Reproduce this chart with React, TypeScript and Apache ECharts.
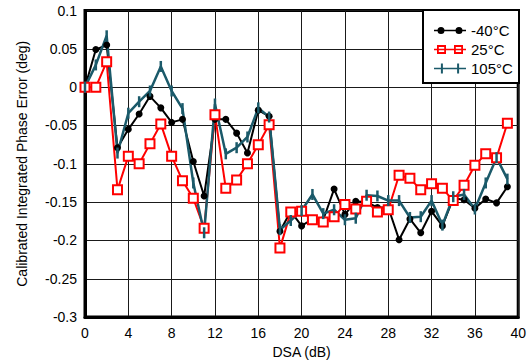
import React, { useEffect, useRef } from "react";
import * as echarts from "echarts";

const dsa: number[] = Array.from({ length: 40 }, (_, i) => i);

const minus40: number[] = [
  0, 0.049, 0.055, -0.079, -0.055, -0.035, -0.012, -0.027, -0.046, -0.042,
  -0.097, -0.142, -0.042, -0.042, -0.06, -0.086, -0.03, -0.038, -0.188, -0.162,
  -0.181, -0.172, -0.173, -0.133, -0.166, -0.149, -0.15, -0.157, -0.157, -0.199,
  -0.172, -0.19, -0.162, -0.181, -0.145, -0.147, -0.158, -0.146, -0.151, -0.13,
];

const plus25: number[] = [
  0, 0, 0.033, -0.134, -0.09, -0.1, -0.074, -0.048, -0.09, -0.122,
  -0.145, -0.184, -0.036, -0.132, -0.121, -0.1, -0.075, -0.049, -0.21, -0.163,
  -0.162, -0.173, -0.176, -0.169, -0.153, -0.159, -0.149, -0.163, -0.16, -0.115,
  -0.119, -0.134, -0.126, -0.132, -0.148, -0.128, -0.102, -0.087, -0.092, -0.047,
];

const plus105: number[] = [
  0, 0.029, 0.067, -0.086, -0.034, -0.019, -0.005, 0.027, -0.005, -0.028,
  -0.125, -0.19, -0.022, -0.087, -0.079, -0.065, -0.027, -0.039, -0.186, -0.174,
  -0.161, -0.14, -0.165, -0.16, -0.173, -0.171, -0.141, -0.142, -0.148, -0.148,
  -0.17, -0.169, -0.148, -0.18, -0.143, -0.14, -0.159, -0.125, -0.092, -0.12,
];

const seriesNames = ["-40°C", "25°C", "105°C"];
const colors = ["#000000", "#ff0000", "#1b5a6a"];
const FONT = "Liberation Sans, Arial, Helvetica, sans-serif";

// legend icons (32 x 10 box): a line with two markers, as in the reference
const corners = "M0,0h0.01v0.01h-0.01Z M31.99,9.99h0.01v0.01h-0.01Z ";
const lineBar = "M0,4.2H32V5.8H0Z ";
const iconBlack =
  "path://" +
  corners +
  lineBar +
  "M3.5,5a3.5,3.5 0 1,1 7,0a3.5,3.5 0 1,1 -7,0Z M21.5,5a3.5,3.5 0 1,1 7,0a3.5,3.5 0 1,1 -7,0Z";
const iconRed =
  "path://" +
  corners +
  lineBar +
  "M3,0.6H12V9.4H3Z M4.8,2.4V7.6H10.2V2.4Z M20,0.6H29V9.4H20Z M21.8,2.4V7.6H27.2V2.4Z";
const iconTeal =
  "path://" + corners + lineBar + "M6.9,0H8.9V10H6.9Z M23.1,0H25.1V10H23.1Z";

export default function App() {
  const ref = useRef<HTMLDivElement>(null);
  useEffect(() => {
    if (!ref.current) return;
    const chart = echarts.init(ref.current, null, { renderer: "svg" });
    const toPts = (arr: number[]) => dsa.map((x, i) => [x, arr[i]]);
    const icons = [iconBlack, iconRed, iconTeal];
    chart.setOption({
      animation: false,
      backgroundColor: "#fff",
      textStyle: { fontFamily: FONT },
      grid: {
        left: 85,
        right: 10,
        top: 10.5,
        bottom: 46.5,
        show: true,
        borderColor: "#000",
        borderWidth: 3,
        containLabel: false,
      },
      xAxis: {
        type: "value",
        min: 0,
        max: 40,
        interval: 4,
        name: "DSA (dB)",
        nameLocation: "middle",
        nameGap: 26,
        nameTextStyle: { fontSize: 14, color: "#000", fontFamily: FONT },
        axisLine: { show: true, onZero: false, lineStyle: { color: "#000", width: 3 } },
        axisTick: { show: false },
        axisLabel: { fontSize: 14, color: "#000", margin: 9, fontFamily: FONT },
        splitLine: { show: true, lineStyle: { color: "#1a1a1a", width: 1 } },
      },
      yAxis: {
        type: "value",
        min: -0.3,
        max: 0.1,
        interval: 0.05,
        name: "Calibrated Integrated Phase Error (deg)",
        nameLocation: "middle",
        nameGap: 56,
        nameTextStyle: { fontSize: 14, color: "#000", fontFamily: FONT },
        axisLine: { show: true, lineStyle: { color: "#000", width: 3 } },
        axisTick: { show: false },
        axisLabel: { fontSize: 14, color: "#000", margin: 8, fontFamily: FONT },
        splitLine: { show: true, lineStyle: { color: "#1a1a1a", width: 1 } },
      },
      legend: {
        orient: "vertical",
        left: 429,
        top: 18,
        itemGap: 4,
        itemWidth: 32,
        itemHeight: 10,
        itemTextGap: 7,
        z: 10,
        textStyle: { fontSize: 15, color: "#000", fontFamily: FONT },
        data: seriesNames.map((n, i) => ({
          name: n,
          icon: icons[i],
          itemStyle: { color: colors[i], borderWidth: 0, borderColor: colors[i] },
        })),
      },
      graphic: [
        {
          type: "rect",
          z: 5,
          shape: { x: 423, y: 10, width: 96, height: 73 },
          style: { fill: "#fff", stroke: "#000", lineWidth: 2 },
        },
      ],
      series: [
        {
          name: seriesNames[0],
          type: "line",
          data: toPts(minus40),
          symbol: "circle",
          symbolSize: 7,
          lineStyle: { color: colors[0], width: 2 },
          itemStyle: { color: colors[0] },
        },
        {
          name: seriesNames[1],
          type: "line",
          data: toPts(plus25),
          symbol: "rect",
          symbolSize: 9,
          lineStyle: { color: colors[1], width: 2 },
          itemStyle: { color: "#fff", borderColor: colors[1], borderWidth: 2 },
        },
        {
          name: seriesNames[2],
          type: "line",
          data: toPts(plus105),
          symbol: "rect",
          symbolSize: [2.5, 11],
          lineStyle: { color: colors[2], width: 2.5 },
          itemStyle: { color: colors[2] },
        },
      ],
    });
    return () => chart.dispose();
  }, []);
  return (
    <div
      ref={ref}
      style={{ position: "absolute", left: 0, top: 0, width: 529, height: 364 }}
    />
  );
}
